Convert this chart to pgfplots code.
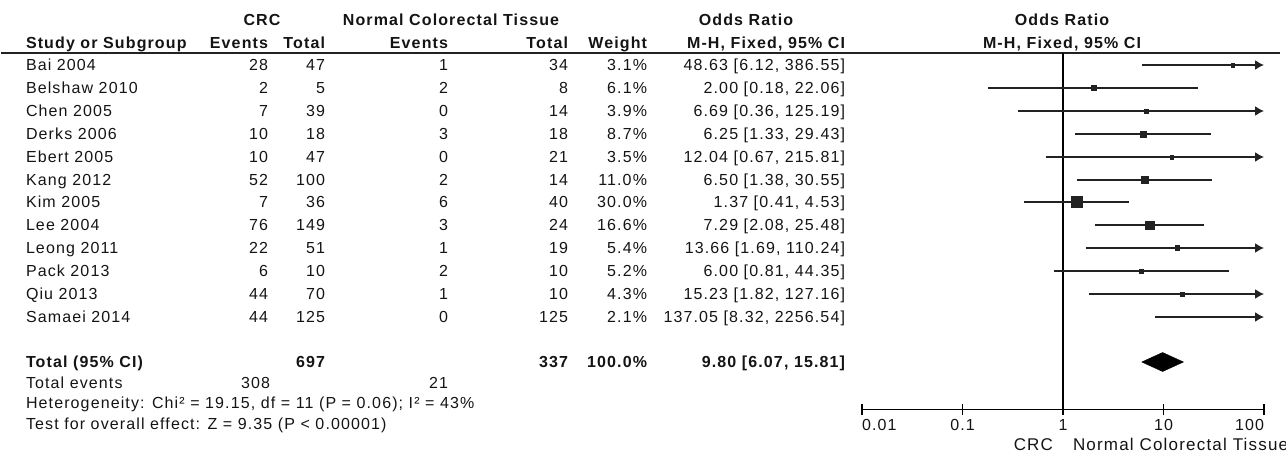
\documentclass[border=0pt]{standalone}
\usepackage{pgfplots}
\pgfplotsset{compat=1.18}
\usetikzlibrary{arrows.meta}
\usepackage{fontspec}
\setmainfont{Liberation Sans}[LetterSpace=7]
\definecolor{txt}{HTML}{141414}
\definecolor{ln}{HTML}{222222}
\newcommand{\fs}{\fontsize{16}{19}\selectfont}
\newcommand{\studyrow}[8]{%
  \node[anchor=base west] at (26pt,{-#1pt-5.8pt}) {#2};
  \node[anchor=base east] at (268pt,{-#1pt-5.8pt}) {#3};
  \node[anchor=base east] at (325pt,{-#1pt-5.8pt}) {#4};
  \node[anchor=base east] at (448pt,{-#1pt-5.8pt}) {#5};
  \node[anchor=base east] at (568pt,{-#1pt-5.8pt}) {#6};
  \node[anchor=base east] at (647pt,{-#1pt-5.8pt}) {#7};
  \node[anchor=base east] at (845pt,{-#1pt-5.8pt}) {#8};
}
\begin{document}
\begin{tikzpicture}[
  every node/.style={inner sep=0pt, outer sep=0pt, text=txt, font=\fs},
  b/.style={font=\fs\bfseries}]
% headers
\node[b, anchor=base] at (262pt,-25.8pt) {CRC};
\node[b, anchor=base] at (451pt,-25.8pt) {Normal Colorectal Tissue};
\node[b, anchor=base] at (746pt,-25.8pt) {Odds Ratio};
\node[b, anchor=base] at (1062pt,-25.8pt) {Odds Ratio};
\node[b, anchor=base west] at (26pt,-48.8pt) {Study or Subgroup};
\node[b, anchor=base east] at (268pt,-48.8pt) {Events};
\node[b, anchor=base east] at (325pt,-48.8pt) {Total};
\node[b, anchor=base east] at (448pt,-48.8pt) {Events};
\node[b, anchor=base east] at (568pt,-48.8pt) {Total};
\node[b, anchor=base east] at (647pt,-48.8pt) {Weight};
\node[b, anchor=base east] at (845pt,-48.8pt) {M-H, Fixed, 95\% CI};
\node[b, anchor=base] at (1062pt,-48.8pt) {M-H, Fixed, 95\% CI};
\draw[line width=1.6pt, ln] (1pt,-53pt) -- (1280pt,-53pt);
% study rows
\studyrow{65}{Bai 2004}{28}{47}{1}{34}{3.1\%}{48.63 [6.12, 386.55]}
\studyrow{88}{Belshaw 2010}{2}{5}{2}{8}{6.1\%}{2.00 [0.18, 22.06]}
\studyrow{111}{Chen 2005}{7}{39}{0}{14}{3.9\%}{6.69 [0.36, 125.19]}
\studyrow{134}{Derks 2006}{10}{18}{3}{18}{8.7\%}{6.25 [1.33, 29.43]}
\studyrow{157}{Ebert 2005}{10}{47}{0}{21}{3.5\%}{12.04 [0.67, 215.81]}
\studyrow{180}{Kang 2012}{52}{100}{2}{14}{11.0\%}{6.50 [1.38, 30.55]}
\studyrow{202}{Kim 2005}{7}{36}{6}{40}{30.0\%}{1.37 [0.41, 4.53]}
\studyrow{225}{Lee 2004}{76}{149}{3}{24}{16.6\%}{7.29 [2.08, 25.48]}
\studyrow{248}{Leong 2011}{22}{51}{1}{19}{5.4\%}{13.66 [1.69, 110.24]}
\studyrow{271}{Pack 2013}{6}{10}{2}{10}{5.2\%}{6.00 [0.81, 44.35]}
\studyrow{294}{Qiu 2013}{44}{70}{1}{10}{4.3\%}{15.23 [1.82, 127.16]}
\studyrow{317}{Samaei 2014}{44}{125}{0}{125}{2.1\%}{137.05 [8.32, 2256.54]}
% total
\node[b, anchor=base west] at (26pt,-367.8pt) {Total (95\% CI)};
\node[b, anchor=base east] at (325pt,-367.8pt) {697};
\node[b, anchor=base east] at (568pt,-367.8pt) {337};
\node[b, anchor=base east] at (647pt,-367.8pt) {100.0\%};
\node[b, anchor=base east] at (845pt,-367.8pt) {9.80 [6.07, 15.81]};
\node[anchor=base west] at (26pt,-388.8pt) {Total events};
\node[anchor=base east] at (270pt,-388.8pt) {308};
\node[anchor=base east] at (448pt,-388.8pt) {21};
\node[anchor=base west] at (26pt,-408.8pt) {Heterogeneity: Chi² = 19.15, df = 11 (P = 0.06); I² = 43\%};
\node[anchor=base west] at (26pt,-429.5pt) {Test for overall effect: Z = 9.35 (P < 0.00001)};
% forest axis
\begin{axis}[
  at={(862pt,-409.5pt)}, anchor=south west,
  scale only axis, width=402pt, height=356.5pt,
  xmode=log, xmin=0.01, xmax=100, ymin=-409.5, ymax=-53,
  axis x line*=bottom, axis y line=none,
  xtick={0.01,0.1,1,10,100}, xticklabels={}, xminorticks=false,
  tick align=center, major tick length=11pt,
  every tick/.style={black, line width=1.3pt},
  axis line style={line width=1.3pt, black},
  clip=false,
]
\addplot[black, line width=1.3pt] coordinates {(1,-53) (1,-409.5)};
\pgfplotsset{ci/.style={ln, line width=1.5pt, mark=none},
  ar/.style={ln, line width=1.5pt, mark=none, -{Latex[length=9pt,width=10pt]}},
  sq/.style={only marks, mark=square*, ln, mark options={fill=ln, draw=ln}}}
\addplot[ar] coordinates {(6.12,-65) (100,-65)};
\addplot[sq, mark size=1.76] coordinates {(48.63,-65)};
\addplot[ci] coordinates {(0.18,-88) (22.06,-88)};
\addplot[sq, mark size=2.47] coordinates {(2.00,-88)};
\addplot[ar] coordinates {(0.36,-111) (100,-111)};
\addplot[sq, mark size=1.97] coordinates {(6.69,-111)};
\addplot[ci] coordinates {(1.33,-134) (29.43,-134)};
\addplot[sq, mark size=2.95] coordinates {(6.25,-134)};
\addplot[ar] coordinates {(0.67,-157) (100,-157)};
\addplot[sq, mark size=1.87] coordinates {(12.04,-157)};
\addplot[ci] coordinates {(1.38,-180) (30.55,-180)};
\addplot[sq, mark size=3.32] coordinates {(6.50,-180)};
\addplot[ci] coordinates {(0.41,-202) (4.53,-202)};
\addplot[sq, mark size=5.48] coordinates {(1.37,-202)};
\addplot[ci] coordinates {(2.08,-225) (25.48,-225)};
\addplot[sq, mark size=4.07] coordinates {(7.29,-225)};
\addplot[ar] coordinates {(1.69,-248) (100,-248)};
\addplot[sq, mark size=2.32] coordinates {(13.66,-248)};
\addplot[ci] coordinates {(0.81,-271) (44.35,-271)};
\addplot[sq, mark size=2.28] coordinates {(6.00,-271)};
\addplot[ar] coordinates {(1.82,-294) (100,-294)};
\addplot[sq, mark size=2.07] coordinates {(15.23,-294)};
\addplot[ar] coordinates {(8.32,-317) (100,-317)};
\addplot[fill=black, draw=black] coordinates {(6.07,-362) (9.80,-352.5) (15.81,-362) (9.80,-371.5) (6.07,-362)};
\node[anchor=base west] at (axis cs:0.01,-430.5) {0.01};
\node[anchor=base] at (axis cs:0.1,-430.5) {0.1};
\node[anchor=base] at (axis cs:1,-430.5) {1};
\node[anchor=base] at (axis cs:10,-430.5) {10};
\node[anchor=base east] at (axis cs:100,-430.5) {100};
\end{axis}
\node[anchor=base east, font=\fontsize{17}{20}\selectfont] at (1053pt,-450pt) {CRC};
\node[anchor=base west, font=\fontsize{17}{20}\selectfont] at (1073pt,-450pt) {Normal Colorectal Tissue};
\pgfresetboundingbox
\useasboundingbox (0pt,0pt) rectangle (1286pt,-452pt);
\end{tikzpicture}
\end{document}
